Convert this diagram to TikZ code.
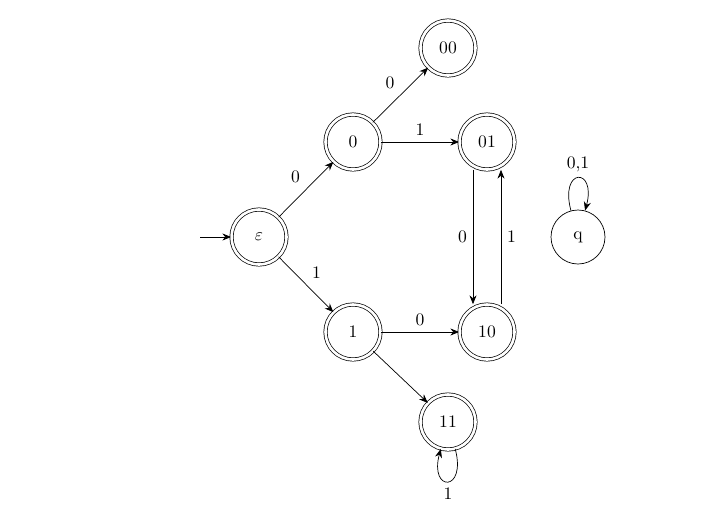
\documentclass[tikz,border=0pt]{standalone}
\usetikzlibrary{arrows.meta}
\tikzstyle{accept}=[draw,circle,double,double distance=1.5pt,minimum size=1.1cm,inner sep=0pt]
\tikzstyle{state}=[draw,circle,minimum size=1.08cm,inner sep=0pt]
\tikzstyle{tedge}=[-{Stealth[length=5pt,width=4pt]}]

\begin{document}
\begin{tikzpicture}[auto]
  \useasboundingbox (0,0) rectangle (14.08,-10.5);
  % Place states
  \node[accept] (eps) at (5.18,-4.74) {$\varepsilon$};
  \node[accept] (s0) at (7.06,-2.84) {0};
  \node[accept] (s1) at (7.06,-6.64) {1};
  \node[accept] (s00) at (8.96,-0.96) {00};
  \node[accept] (s01) at (9.74,-2.84) {01};
  \node[accept] (s10) at (9.74,-6.64) {10};
  \node[accept] (s11) at (8.96,-8.44) {11};
  \node[state] (q) at (11.56,-4.74) {q};
  \coordinate (start) at (4.0,-4.74);

  \draw[tedge] (start) -- (eps);
  \path[tedge] (eps) edge node {0} (s0);
  \path[tedge] (eps) edge node {1} (s1);
  \path[tedge] (s0) edge node {0} (s00);
  \path[tedge] (s0) edge node {1} (s01);
  \path[tedge] (s1) edge node {0} (s10);
  \path[tedge] (s1) edge (s11);
  \path[tedge] ([xshift=-0.28cm]s01.south) edge node[swap] {0} ([xshift=-0.28cm]s10.north);
  \path[tedge] ([xshift=0.28cm]s10.north) edge node[swap] {1} ([xshift=0.28cm]s01.south);
  \path[tedge] (s11) edge[loop below,looseness=8,min distance=0.9cm] node {1} (s11);
  \path[tedge] (q) edge[loop above,looseness=8,min distance=0.9cm] node {0,1} (q);
\end{tikzpicture}
\end{document}
